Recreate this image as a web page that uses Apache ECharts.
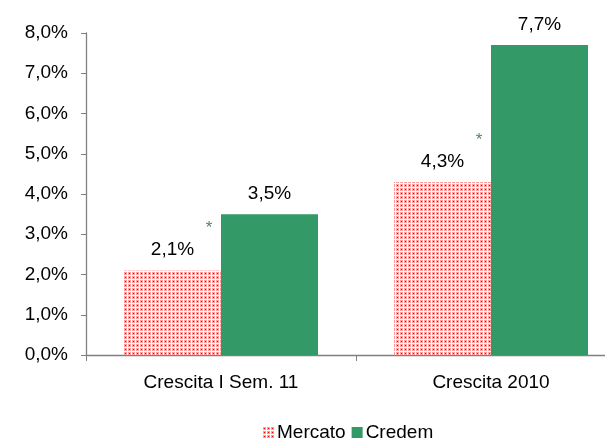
<!DOCTYPE html>
<html>
<head>
<meta charset="utf-8">
<script src="https://cdn.jsdelivr.net/npm/echarts@6/dist/echarts.min.js"></script>
<style>
  html, body { margin: 0; padding: 0; background: #fff; overflow: hidden; }
  #chart { width: 640px; height: 448px; }
</style>
</head>
<body>
<div id="chart"></div>
<script>
var categories = ['Crescita I Sem. 11', 'Crescita 2010'];
var mercato = [2.1, 4.3];
var credem = [3.5, 7.7];
var yTicks = [0, 1, 2, 3, 4, 5, 6, 7, 8];

// dotted red fill like the original
function dotPattern() {
    var c = document.createElement('canvas');
    c.width = 4; c.height = 4;
    var ctx = c.getContext('2d');
    ctx.fillStyle = '#ffffff';
    ctx.fillRect(0, 0, 4, 4);
    ctx.fillStyle = '#ff9c9c';
    ctx.fillRect(0, 0, 3, 3);
    ctx.fillStyle = '#ff0000';
    ctx.fillRect(1, 1, 1, 1);
    return c;
}

function pct(v) {
    return v.toFixed(1).replace('.', ',') + '%';
}

var chart = echarts.init(document.getElementById('chart'));
var font = 'Liberation Sans, Arial, sans-serif';
var option = {
    animation: false,
    grid: { left: 86, top: 33, bottom: 93, width: 540 },
    legend: {
        left: 258,
        bottom: 1,
        icon: 'rect',
        itemWidth: 11,
        itemHeight: 11,
        itemGap: 6,
        data: ['Mercato', 'Credem'],
        textStyle: { fontFamily: font, fontSize: 19, color: '#000', padding: [0, 0, 0, -2] }
    },
    xAxis: {
        type: 'category',
        data: categories,
        axisLine: { lineStyle: { color: '#808080', width: 1.3 } },
        axisTick: { show: true, length: 6, lineStyle: { color: '#808080' } },
        axisLabel: { fontFamily: font, fontSize: 19, color: '#000', margin: 18 }
    },
    yAxis: {
        type: 'value',
        min: yTicks[0],
        max: yTicks[yTicks.length - 1],
        interval: 1,
        splitLine: { show: false },
        axisLine: { show: true, lineStyle: { color: '#808080', width: 1.3 } },
        axisTick: { show: true, length: 5, lineStyle: { color: '#808080' } },
        axisLabel: { fontFamily: font, fontSize: 19, color: '#000', margin: 18, formatter: pct }
    },
    series: [
        {
            name: 'Mercato',
            type: 'bar',
            data: mercato,
            barWidth: 97,
            barGap: 0,
            itemStyle: { color: { image: dotPattern(), repeat: 'repeat' } },
            label: {
                show: true, position: 'top', distance: 11,
                fontFamily: font, fontSize: 19, color: '#000',
                formatter: function (p) { return pct(p.value); }
            }
        },
        {
            name: 'Credem',
            type: 'bar',
            data: credem,
            barWidth: 97,
            itemStyle: { color: '#339966' },
            label: {
                show: true, position: 'top', distance: 11,
                fontFamily: font, fontSize: 19, color: '#000',
                formatter: function (p) { return pct(p.value); }
            }
        },
        {
            // asterisks next to the Mercato labels
            name: 'nota',
            type: 'scatter',
            data: mercato,
            symbolSize: 0,
            silent: true,
            label: {
                show: true, position: 'inside', offset: [-12, -42],
                formatter: '*', fontFamily: font, fontSize: 17, color: '#2f5f3f'
            }
        }
    ]
};
chart.setOption(option);
</script>
</body>
</html>
